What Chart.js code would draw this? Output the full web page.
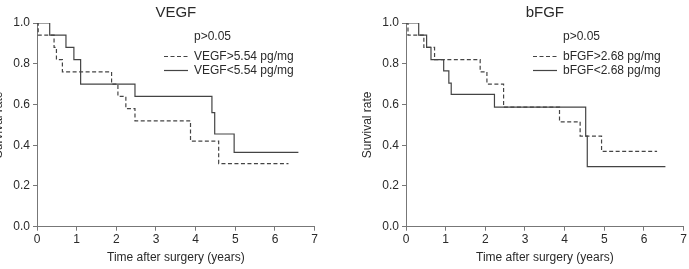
<!DOCTYPE html>
<html>
<head>
<meta charset="utf-8">
<script src="https://cdn.jsdelivr.net/npm/chart.js@4/dist/chart.umd.min.js"></script>
<style>
  html, body { margin: 0; padding: 0; background: #fff; overflow: hidden; }
  body { width: 689px; height: 269px; position: relative; }
  .box { position: absolute; top: 0; width: 344px; height: 269px; }
</style>
</head>
<body>
<div class="box" style="left:-24px"><canvas id="vegfChart"></canvas></div>
<div class="box" style="left:345px"><canvas id="bfgfChart"></canvas></div>
<script>
// time after surgery (years) and survival rate
const vegfHighTime = [0, 0.03, 0.43, 0.49, 0.64, 1.88, 2.04, 2.24, 2.47, 3.87, 4.58, 6.34];
const vegfHighSurv = [1, 0.94, 0.88, 0.82, 0.76, 0.70, 0.64, 0.58, 0.52, 0.42, 0.31, 0.31];
const vegfLowTime = [0, 0.32, 0.73, 0.93, 1.1, 2.47, 4.41, 4.48, 4.97, 6.59];
const vegfLowSurv = [1, 0.94, 0.88, 0.82, 0.70, 0.64, 0.56, 0.455, 0.365, 0.365];

const bfgfHighTime = [0, 0.05, 0.45, 0.72, 1.87, 2.04, 2.46, 3.87, 4.39, 4.93, 6.33];
const bfgfHighSurv = [1, 0.94, 0.88, 0.82, 0.76, 0.70, 0.587, 0.515, 0.445, 0.37, 0.37];
const bfgfLowTime = [0, 0.32, 0.52, 0.63, 0.95, 1.08, 1.14, 2.23, 4.53, 4.57, 6.54];
const bfgfLowSurv = [1, 0.94, 0.88, 0.82, 0.765, 0.705, 0.65, 0.587, 0.445, 0.295, 0.295];

const xTicks = [0, 1, 2, 3, 4, 5, 6, 7];
const yTicks = [0, 0.2, 0.4, 0.6, 0.8, 1.0];
const pText = "p>0.05";

const FONT = "'Liberation Sans', Arial, sans-serif";
const LINE = "#444";
const AXIS = "#777";
const TEXT = "#2a2a2a";

function points(times, surv) {
  return times.map((t, i) => ({ x: t, y: surv[i] }));
}

// title, p value and the legend drawn inside the plot
const kmNotes = {
  id: "kmNotes",
  afterDraw(chart, args, opts) {
    const ctx = chart.ctx;
    const area = chart.chartArea;
    ctx.save();
    ctx.fillStyle = TEXT;
    ctx.textBaseline = "middle";

    ctx.font = "15px " + FONT;
    ctx.textAlign = "center";
    ctx.fillText(opts.title, (area.left + area.right) / 2, 13);

    ctx.font = "12px " + FONT;
    ctx.textAlign = "left";
    ctx.fillText(pText, area.left + 157, 37);

    chart.data.datasets.forEach((ds, i) => {
      const y = 56.5 + i * 14;
      ctx.strokeStyle = ds.borderColor;
      ctx.lineWidth = ds.borderWidth;
      ctx.setLineDash(ds.borderDash || []);
      ctx.beginPath();
      ctx.moveTo(area.left + 127, y);
      ctx.lineTo(area.left + 151, y);
      ctx.stroke();
      ctx.setLineDash([]);
      ctx.fillText(ds.label, area.left + 157, y);
    });
    ctx.restore();
  }
};

function kmChart(id, title, highLabel, highT, highS, lowLabel, lowT, lowS) {
  new Chart(document.getElementById(id).getContext("2d"), {
    type: "line",
    data: {
      datasets: [{
        label: highLabel,
        data: points(highT, highS),
        stepped: "before",
        borderColor: LINE,
        borderWidth: 1.2,
        borderDash: [4, 2.5],
        pointRadius: 0,
        fill: false
      }, {
        label: lowLabel,
        data: points(lowT, lowS),
        stepped: "before",
        borderColor: LINE,
        borderWidth: 1.2,
        pointRadius: 0,
        fill: false
      }]
    },
    options: {
      responsive: true,
      maintainAspectRatio: false,
      animation: false,
      layout: { padding: { top: 23, right: 3, left: 0, bottom: 0 } },
      plugins: {
        legend: { display: false },
        tooltip: { enabled: false },
        kmNotes: { title: title }
      },
      scales: {
        x: {
          type: "linear",
          min: xTicks[0],
          max: xTicks[xTicks.length - 1],
          afterFit: (s) => { s.height = 42.3; },
          afterBuildTicks: (s) => { s.ticks = xTicks.map(v => ({ value: v })); },
          grid: { drawOnChartArea: false, tickLength: 4, color: AXIS },
          border: { color: AXIS, width: 1 },
          ticks: { color: TEXT, padding: 2, font: { family: FONT, size: 12 } },
          title: {
            display: true,
            text: "Time after surgery (years)",
            color: TEXT,
            font: { family: FONT, size: 12 },
            padding: { top: 0, bottom: 4 }
          }
        },
        y: {
          min: yTicks[0],
          max: yTicks[yTicks.length - 1],
          afterFit: (s) => { s.width = 61; },
          afterBuildTicks: (s) => { s.ticks = yTicks.map(v => ({ value: v })); },
          grid: { drawOnChartArea: false, tickLength: 4, color: AXIS },
          border: { color: AXIS, width: 1 },
          ticks: {
            color: TEXT,
            padding: 3,
            font: { family: FONT, size: 12 },
            callback: (v) => Number(v).toFixed(1)
          },
          title: {
            display: true,
            text: "Survival rate",
            color: TEXT,
            font: { family: FONT, size: 12 },
            padding: { top: 15, bottom: 0 }
          }
        }
      }
    },
    plugins: [kmNotes]
  });
}

kmChart("vegfChart", "VEGF",
  "VEGF>5.54 pg/mg", vegfHighTime, vegfHighSurv,
  "VEGF<5.54 pg/mg", vegfLowTime, vegfLowSurv);

kmChart("bfgfChart", "bFGF",
  "bFGF>2.68 pg/mg", bfgfHighTime, bfgfHighSurv,
  "bFGF<2.68 pg/mg", bfgfLowTime, bfgfLowSurv);
</script>
</body>
</html>
